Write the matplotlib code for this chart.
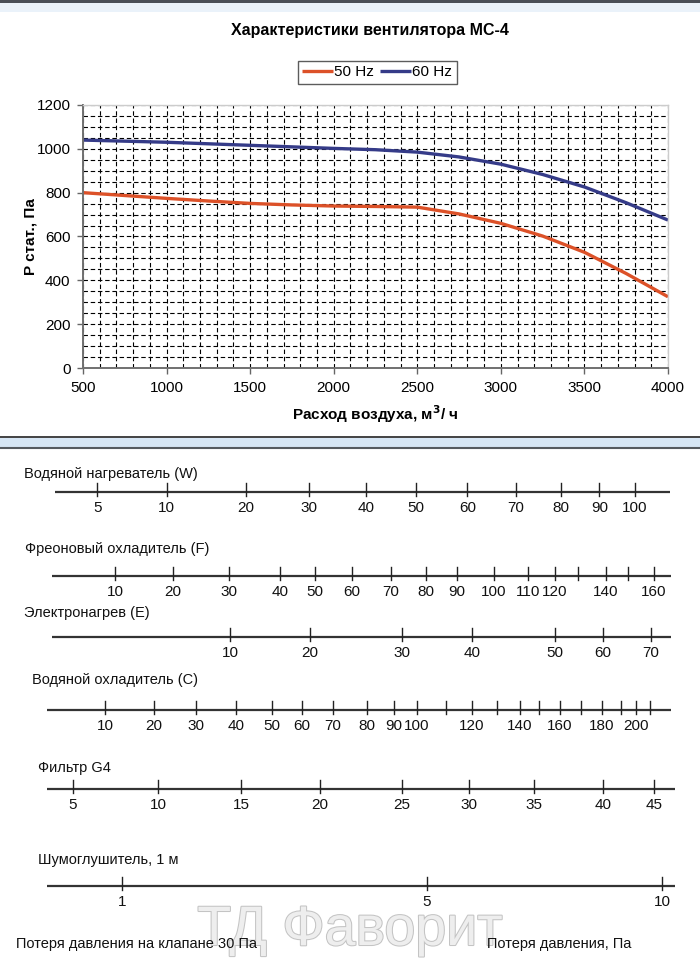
import numpy as np
import matplotlib
matplotlib.use('Agg')
import matplotlib.pyplot as plt
import matplotlib.patheffects as pe

plt.rcParams['font.family'] = ['Liberation Sans', 'DejaVu Sans']

# fan curves (m3/h -> Pa)
flow = [500, 750, 1000, 1250, 1500, 1750, 2000, 2250, 2500, 2750, 3000, 3250, 3500, 3750, 4000]
p50 = [800, 787, 774, 762, 751, 744, 739, 737, 734, 703, 660, 602, 528, 431, 325]
p60 = [1040, 1035, 1030, 1023, 1016, 1009, 1002, 996, 985, 963, 930, 883, 826, 754, 675]

# pressure-loss scales: airflow where each loss value sits
w_vals = [5, 10, 20, 30, 40, 50, 60, 70, 80, 90, 100]
w_flow = [585, 1000, 1475, 1850, 2195, 2490, 2800, 3090, 3360, 3590, 3800]

f_vals = [10, 20, 30, 40, 50, 60, 70, 80, 90, 100, 110, 120, 130, 140, 150, 160]
f_flow = [691, 1038, 1374, 1679, 1888, 2109, 2343, 2552, 2738, 2959, 3162, 3324, 3462, 3629, 3761, 3916]
f_labels = ['10', '20', '30', '40', '50', '60', '70', '80', '90', '100', '110', '120', '', '140', '', '160']

e_vals = [10, 20, 30, 40, 50, 60, 70]
e_flow = [1380, 1858, 2409, 2827, 3324, 3611, 3898]

c_vals = [10, 20, 30, 40, 50, 60, 70, 80, 90, 100, 110, 120, 130, 140, 150, 160, 170, 180, 190, 200, 210]
c_flow = [632, 925, 1176, 1415, 1631, 1810, 1996, 2199, 2361, 2498, 2672, 2827, 2977, 3115, 3228,
          3354, 3480, 3605, 3719, 3809, 3893]
c_labels = ['10', '20', '30', '40', '50', '60', '70', '80', '90', '100', '', '120', '', '140', '',
            '160', '', '180', '', '200', '']

g_vals = [5, 10, 15, 20, 25, 30, 35, 40, 45]
g_flow = [440, 949, 1445, 1918, 2409, 2809, 3198, 3611, 3916]

s_vals = [1, 5, 10]
s_flow = [733, 2558, 3964]

W, H = 700, 963
fig = plt.figure(figsize=(7, 9.63), dpi=100)

# overlay axes in airflow units horizontally, pixel rows vertically
k = 3500 / 585
ov = fig.add_axes([0, 0, 1, 1], zorder=0)
ov.set_xlim(500 - 83 * k, 500 + (W - 83) * k)
ov.set_ylim(H, 0)
ov.axis('off')

# window-like decorations
ov.axhspan(0, 3, color='#4a4f57', lw=0)
ov.axhspan(3, 12, color='#eaf2fa', lw=0)
ov.axhline(437, color='#222222', lw=1.2)
ov.axhspan(438, 448, color='#d6e6f5', lw=0)
ov.axhline(448.5, color='#555a60', lw=1.5)

# main chart
ax = fig.add_axes([83 / W, (H - 368) / H, 585 / W, 263 / H], zorder=2)
ax.patch.set_alpha(0)
ax.plot(flow, p50, color='#dc5128', lw=2.4, label='50 Hz', solid_capstyle='butt')
ax.plot(flow, p60, color='#353b88', lw=2.4, label='60 Hz', solid_capstyle='butt')
ax.set_xlim(500, 4000)
ax.set_ylim(0, 1200)
ax.set_xticks(np.arange(500, 4001, 500))
ax.set_yticks(np.arange(0, 1201, 200))
ax.set_xticks(np.arange(500, 4001, 100), minor=True)
ax.set_yticks(np.arange(0, 1201, 50), minor=True)
ax.grid(which='both', color='black', linestyle=(0, (4, 2.5)), lw=0.8)
ax.tick_params(which='major', labelsize=11, length=4, width=1, color='#666666', pad=5)
ax.tick_params(which='minor', length=0)
for s in ['left', 'bottom']:
    ax.spines[s].set_color('#707070')
    ax.spines[s].set_linewidth(1.4)
for s in ['top', 'right']:
    ax.spines[s].set_color('#cccccc')
    ax.spines[s].set_linewidth(1)
ax.set_ylabel('P стат., Па', fontsize=11, fontweight='bold', labelpad=-1)
ax.set_xlabel(r'Расход воздуха, м$^{\mathbf{3}}$/ ч', fontsize=11, fontweight='bold', labelpad=6)
fig.text(370 / W, 1 - 30 / H, 'Характеристики вентилятора МС-4', fontsize=11.5,
         fontweight='bold', ha='center', va='center')
leg = ax.legend(loc='upper center', bbox_to_anchor=(0.503, 1.197), ncol=2, fontsize=11,
                frameon=True, fancybox=False, handlelength=2.0, handletextpad=0.1,
                columnspacing=0.4, borderpad=0.3)
leg.get_frame().set_edgecolor('#333333')
leg.get_frame().set_linewidth(1)


def scale(title, tx, ty, ly, x0, x1, pos, labels, tick_h=9):
    ov.text(tx, ty, title, fontsize=10.5, ha='left', va='center', color='#111111')
    ov.plot([x0, x1], [ly, ly], color='#333333', lw=1.6, solid_capstyle='butt')
    for p, lab in zip(pos, labels):
        ov.plot([p, p], [ly - tick_h, ly + tick_h * 0.5], color='#222222', lw=1)
        if lab != '':
            ov.text(p, ly + 16, lab, fontsize=11, ha='center', va='center', color='#111111')


def px(x):
    return 500 + (x - 83) * k


scale('Водяной нагреватель (W)', px(24), 474, 492, px(55), px(670),
      w_flow, [str(v) for v in w_vals])
scale('Фреоновый охладитель (F)', px(25), 549, 576, px(52), px(671), f_flow, f_labels)
scale('Электронагрев (E)', px(24), 613, 637, px(52), px(671),
      e_flow, [str(v) for v in e_vals])
scale('Водяной охладитель (C)', px(32), 680, 710, px(47), px(671), c_flow, c_labels)
scale('Фильтр G4', px(38), 768, 789, px(47), px(675),
      g_flow, [str(v) for v in g_vals])
scale('Шумоглушитель, 1 м', px(38), 860, 886, px(47), px(675),
      s_flow, [str(v) for v in s_vals])

# faint watermark
ov.text(px(350), 931, 'ТД Фаворит', fontsize=40, ha='center', va='center', color='#eeeeee',
        path_effects=[pe.withStroke(linewidth=1.5, foreground='#c4c4c4')], zorder=0)

ov.text(px(16), 944, 'Потеря давления на клапане 30 Па', fontsize=10.5, ha='left', va='center',
        color='#111111')
ov.text(px(487), 944, 'Потеря давления, Па', fontsize=10.5, ha='left', va='center',
        color='#111111')

fig.savefig('out.png', dpi=100)
